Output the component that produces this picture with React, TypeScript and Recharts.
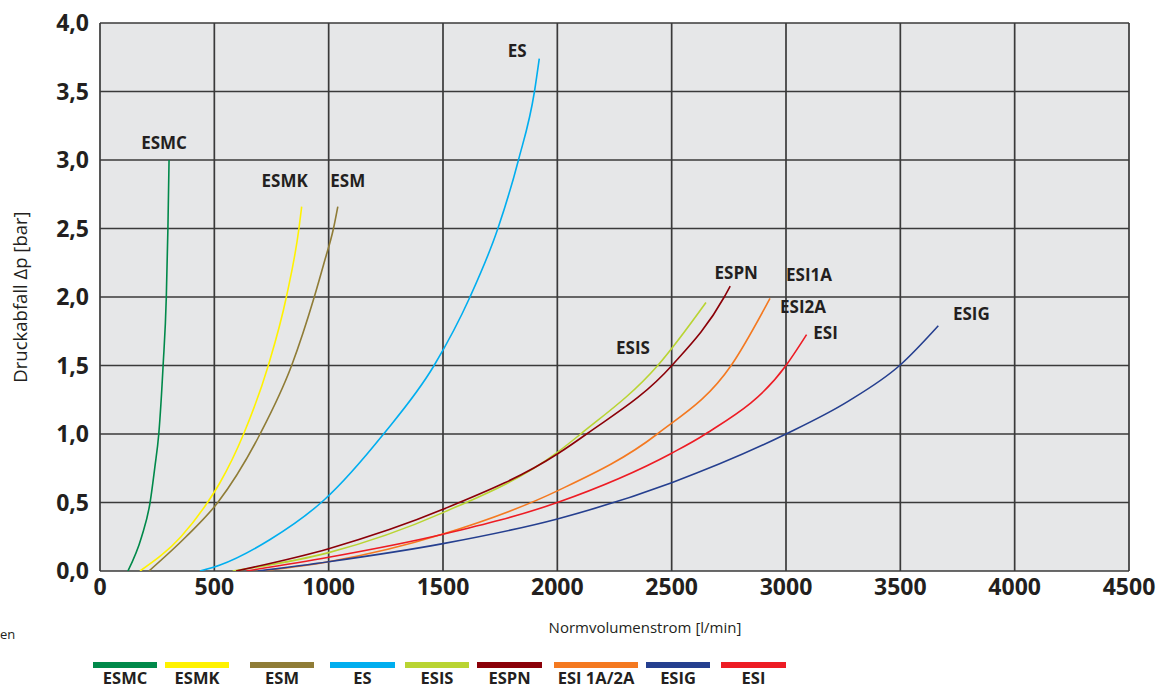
import React from 'react';
import { LineChart, Line, XAxis, YAxis, CartesianGrid } from 'recharts';

// ---- data (x: Normvolumenstrom [l/min], y: Druckabfall [bar]) ----
const esmcX = [122, 182, 219, 240, 257, 276, 290, 297, 302];
const esmcY = [0, 0.25, 0.5, 0.76, 1.0, 1.5, 2.0, 2.5, 3.0];

const esmkX = [175, 354, 470, 525, 628, 736, 815, 870, 882];
const esmkY = [0, 0.25, 0.5, 0.646, 1.0, 1.5, 2.0, 2.5, 2.66];

const esmX = [214, 376, 515, 700, 838, 937, 980, 1021, 1040];
const esmY = [0, 0.25, 0.5, 1.0, 1.5, 2.0, 2.25, 2.5, 2.66];

const esX = [437, 525, 744, 981, 1240, 1461, 1618, 1740, 1830, 1900, 1921];
const esY = [0, 0.044, 0.23, 0.52, 1.0, 1.5, 2.0, 2.5, 3.0, 3.5, 3.74];

const esisX = [580, 1000, 1500, 2000, 2102, 2439, 2650];
const esisY = [0, 0.134, 0.426, 0.866, 1.0, 1.5, 1.96];

const espnX = [595, 1000, 1500, 2000, 2128, 2501, 2730, 2756];
const espnY = [0, 0.163, 0.45, 0.854, 1.0, 1.5, 2.0, 2.08];

const esi12aX = [704, 1000, 1500, 2000, 2437, 2760, 2930];
const esi12aY = [0, 0.068, 0.27, 0.585, 1.0, 1.5, 1.99];

const esigX = [690, 1000, 1500, 2000, 2500, 3000, 3273, 3497, 3666];
const esigY = [0, 0.068, 0.2, 0.38, 0.645, 1.0, 1.24, 1.5, 1.79];

const esiX = [640, 1000, 1500, 2000, 2500, 2648, 3000, 3090];
const esiY = [0, 0.1, 0.268, 0.5, 0.86, 1.0, 1.5, 1.725];

const legendNames = ['ESMC', 'ESMK', 'ESM', 'ES', 'ESIS', 'ESPN', 'ESI 1A/2A', 'ESIG', 'ESI'];
const xTicks = [0, 500, 1000, 1500, 2000, 2500, 3000, 3500, 4000, 4500];
const yTicks = [0, 0.5, 1.0, 1.5, 2.0, 2.5, 3.0, 3.5, 4.0];

const xTitle = 'Normvolumenstrom [l/min]';
const yTitle = 'Druckabfall Δp [bar]';

// ---- styles ----
const colors: Record<string, string> = {
  ESMC: '#00894a',
  ESMK: '#fff200',
  ESM: '#8f7c36',
  ES: '#00aeef',
  ESIS: '#b9d432',
  ESPN: '#8b0008',
  'ESI 1A/2A': '#f47920',
  ESIG: '#253f8f',
  ESI: '#ed1c24',
};

// end label offsets in px relative to the last point
const endLabels: Record<string, { t: string; dx: number; dy: number }[]> = {
  ESMC: [{ t: 'ESMC', dx: -5, dy: -18 }],
  ESMK: [{ t: 'ESMK', dx: -17, dy: -26 }],
  ESM: [{ t: 'ESM', dx: 10, dy: -26 }],
  ES: [{ t: 'ES', dx: -22, dy: -8 }],
  ESIS: [{ t: 'ESIS', dx: -73, dy: 45 }],
  ESPN: [{ t: 'ESPN', dx: 6, dy: -14 }],
  'ESI 1A/2A': [
    { t: 'ESI1A', dx: 39, dy: -24 },
    { t: 'ESI2A', dx: 33, dy: 8 },
  ],
  ESIG: [{ t: 'ESIG', dx: 33, dy: -12 }],
  ESI: [{ t: 'ESI', dx: 19, dy: -2 }],
};

const legendPos: Record<string, { left: number; width: number }> = {
  ESMC: { left: 93, width: 64 },
  ESMK: { left: 165, width: 64 },
  ESM: { left: 250, width: 64 },
  ES: { left: 330, width: 65 },
  ESIS: { left: 405, width: 64 },
  ESPN: { left: 477, width: 65 },
  'ESI 1A/2A': { left: 554, width: 84 },
  ESIG: { left: 646, width: 64 },
  ESI: { left: 721, width: 65 },
};

const zip = (xs: number[], ys: number[]) => xs.map((x, i) => ({ x, y: ys[i] }));

const series = [
  { name: 'ESMC', data: zip(esmcX, esmcY) },
  { name: 'ESMK', data: zip(esmkX, esmkY) },
  { name: 'ESM', data: zip(esmX, esmY) },
  { name: 'ES', data: zip(esX, esY) },
  { name: 'ESIS', data: zip(esisX, esisY) },
  { name: 'ESPN', data: zip(espnX, espnY) },
  { name: 'ESI 1A/2A', data: zip(esi12aX, esi12aY) },
  { name: 'ESIG', data: zip(esigX, esigY) },
  { name: 'ESI', data: zip(esiX, esiY) },
];

const FONT = "'Open Sans', 'DejaVu Sans', sans-serif";
const TEXT = '#231f20';

const makeLabel = (name: string, lastIndex: number) => (props: any) => {
  const { x, y, index } = props;
  if (index !== lastIndex) return <g key={`l-${name}-${index}`} />;
  return (
    <g key={`l-${name}-${index}`}>
      {endLabels[name].map((l) => (
        <text
          key={l.t}
          x={x + l.dx}
          y={y + l.dy}
          textAnchor="middle"
          dominantBaseline="central"
          fontFamily={FONT}
          fontWeight={700}
          fontSize={17}
          fill={TEXT}
        >
          {l.t}
        </text>
      ))}
    </g>
  );
};

const fmtY = (v: number) => v.toFixed(1).replace('.', ',');

export default function App() {
  return (
    <div
      style={{
        position: 'absolute',
        left: 0,
        top: 0,
        width: 1167,
        height: 689,
        background: '#ffffff',
        fontFamily: FONT,
      }}
    >
      <LineChart
        width={1167}
        height={689}
        margin={{ top: 23, right: 38, bottom: 78, left: 0 }}
        style={{ position: 'absolute', left: 0, top: 0 }}
      >
        <CartesianGrid
          fill="#e6e7e8"
          stroke="#3a3a3a"
          strokeWidth={1.7}
          horizontalValues={yTicks}
          verticalValues={xTicks}
        />
        <XAxis
          type="number"
          dataKey="x"
          domain={[0, 4500]}
          ticks={xTicks}
          allowDataOverflow
          axisLine={false}
          tickLine={false}
          tickSize={0}
          tickMargin={8}
          height={40}
          interval={0}
          tick={{ fill: TEXT, fontSize: 23, fontWeight: 700, fontFamily: FONT }}
        />
        <YAxis
          type="number"
          dataKey="y"
          domain={[0, 4]}
          ticks={yTicks}
          allowDataOverflow
          axisLine={false}
          tickLine={false}
          tickSize={0}
          tickMargin={11}
          width={100}
          interval={0}
          tickFormatter={fmtY}
          tick={{ fill: TEXT, fontSize: 23, fontWeight: 700, fontFamily: FONT }}
        />
        {series.map((s) => (
          <Line
            key={s.name}
            data={s.data}
            dataKey="y"
            name={s.name}
            type="monotone"
            stroke={colors[s.name]}
            strokeWidth={1.6}
            dot={false}
            activeDot={false}
            isAnimationActive={false}
            label={makeLabel(s.name, s.data.length - 1)}
          />
        ))}
      </LineChart>

      {/* axis titles */}
      <div
        style={{
          position: 'absolute',
          left: 20,
          top: 297,
          transform: 'translate(-50%, -50%) rotate(-90deg)',
          whiteSpace: 'nowrap',
          fontSize: 18.5,
          lineHeight: 1,
          color: TEXT,
          fontFamily: FONT,
        }}
      >
        {yTitle}
      </div>
      <div
        style={{
          position: 'absolute',
          left: 645,
          top: 627,
          transform: 'translate(-50%, -50%)',
          whiteSpace: 'nowrap',
          fontSize: 15,
          lineHeight: 1,
          color: TEXT,
          fontFamily: FONT,
        }}
      >
        {xTitle}
      </div>
      <div
        style={{
          position: 'absolute',
          left: 0,
          top: 634,
          transform: 'translateY(-50%)',
          fontSize: 13,
          lineHeight: 1,
          color: TEXT,
          fontFamily: FONT,
        }}
      >
        en
      </div>

      {/* legend */}
      {legendNames.map((n) => (
        <div key={n} style={{ position: 'absolute', left: legendPos[n].left, top: 662, width: legendPos[n].width }}>
          <div style={{ height: 6, background: colors[n] }} />
          <div
            style={{
              position: 'absolute',
              left: '50%',
              top: 16,
              transform: 'translate(-50%, -50%)',
              whiteSpace: 'nowrap',
              fontSize: 16.5,
              lineHeight: 1,
              fontWeight: 700,
              color: TEXT,
              fontFamily: FONT,
            }}
          >
            {n}
          </div>
        </div>
      ))}
    </div>
  );
}
